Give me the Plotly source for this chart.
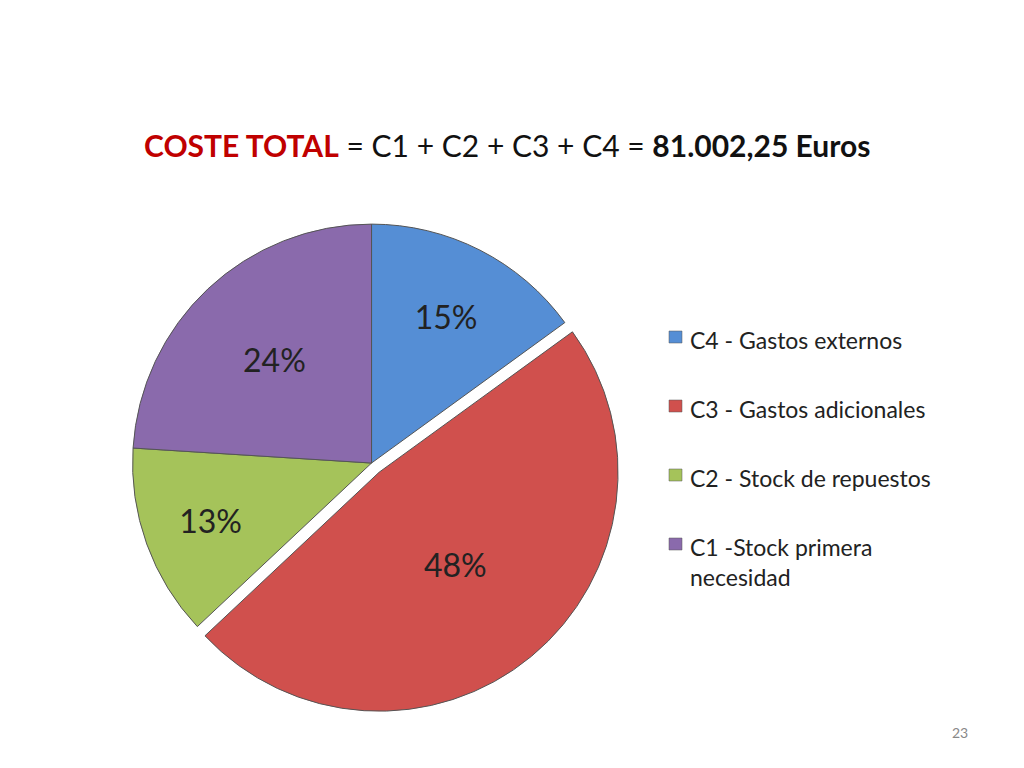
import plotly.graph_objects as go

labels = ["C4 - Gastos externos", "C3 - Gastos adicionales", "C2 - Stock de repuestos", "C1 -Stock primera<br>necesidad"]
values = [15, 48, 13, 24]
colors = ["#558ed5", "#d0504d", "#a5c35a", "#8a6aac"]
pull = [0, 0.05, 0, 0]

fig = go.Figure(go.Pie(
    labels=labels, values=values, sort=False, direction="clockwise", rotation=0,
    marker=dict(colors=colors, line=dict(color="#555555", width=1)),
    pull=pull, texttemplate="%{percent:.0%}", textposition="inside",
    insidetextfont=dict(size=32, color="#222222", family="Lato"),
    domain=dict(x=[0.11, 0.6], y=[0.08, 0.735]),
    showlegend=False,
))

# legend drawn manually to get the wide spacing of the original
ann = [
    dict(text="<b><span style='color:#c00000'>COSTE TOTAL</span></b> = C1 + C2 + C3 + C4 = <b>81.002,25 Euros</b>",
         x=134/1024, y=1-137/768, xref="paper", yref="paper", xanchor="left",
         yanchor="middle", showarrow=False, font=dict(size=30, color="#111111")),
    dict(text="23", x=962/1024, y=1-735/768, xref="paper", yref="paper",
         xanchor="right", showarrow=False, font=dict(size=14, color="#888888")),
]
shapes = []
for i, (lab, col) in enumerate(zip(labels, colors)):
    yc = 329 + i * 69
    shapes.append(dict(type="rect", xref="paper", yref="paper",
                       x0=661/1024, x1=674/1024, y0=1-(yc+6)/768, y1=1-(yc-6)/768,
                       fillcolor=col, line=dict(color="#555555", width=0.5)))
    ann.append(dict(text=lab, x=680/1024, y=1-(yc-13)/768, xref="paper", yref="paper",
                    xanchor="left", yanchor="top", align="left", showarrow=False,
                    font=dict(size=23, color="#222222")))

fig.update_layout(
    width=1024, height=768, margin=dict(l=0, r=0, t=0, b=0),
    paper_bgcolor="white", font=dict(family="Lato", color="#222222"),
    annotations=ann, shapes=shapes,
)

fig.write_html("out.html")
